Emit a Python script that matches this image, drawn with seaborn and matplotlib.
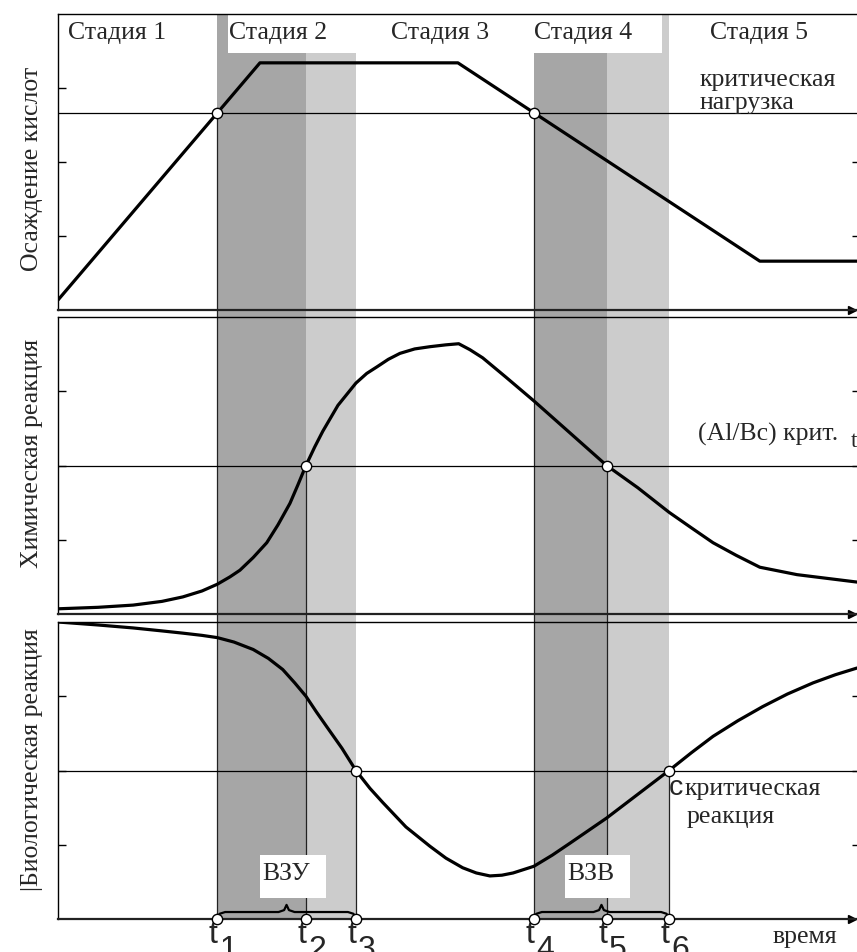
import numpy as np
import pandas as pd
import matplotlib
matplotlib.use("Agg")
import matplotlib.pyplot as plt
import seaborn as sns
from matplotlib.patches import Rectangle

# ---------------- data ----------------
dep_time = [0, 25.25, 50.0, 87.75, 100.0]
deposition = [0.135, 3.34, 3.34, 0.66, 0.66]
critical_load = 2.66

chem_time = [0, 5.0, 9.4, 13.0, 15.6, 18.0, 19.9, 21.5, 22.75, 24.4, 26.1, 27.5,
             29.0, 30.0, 31.0, 32.1, 33.1, 35.0, 37.25, 38.6, 39.9, 41.3, 42.75,
             44.6, 46.5, 48.5, 50.1, 51.5, 53.1, 56.0, 59.5, 64.0, 68.6, 72.5,
             76.4, 79.2, 81.9, 84.8, 87.75, 92.4, 99.9]
chem = [0.07, 0.09, 0.12, 0.17, 0.23, 0.31, 0.40, 0.50, 0.59, 0.76, 0.96, 1.20,
        1.49, 1.74, 2.0, 2.25, 2.46, 2.81, 3.11, 3.24, 3.33, 3.43, 3.51,
        3.57, 3.60, 3.625, 3.64, 3.56, 3.45, 3.19, 2.87, 2.44, 2.0, 1.70,
        1.37, 1.16, 0.96, 0.79, 0.63, 0.53, 0.43]
chem_crit = 2.0

bio_time = [0, 5.0, 9.4, 13.0, 15.6, 18.0, 19.9, 22.0, 24.4, 26.3, 28.1, 29.6,
            31.0, 32.3, 33.6, 35.5, 37.25, 39.0, 40.6, 43.5, 46.5, 48.5, 50.6,
            52.3, 54.0, 55.5, 56.9, 59.5, 61.8, 64.0, 66.3, 68.6, 72.5, 76.4,
            79.2, 81.9, 85.0, 88.1, 91.2, 94.4, 97.2, 99.9]
bio = [4.0, 3.96, 3.92, 3.88, 3.85, 3.82, 3.79, 3.73, 3.63, 3.51, 3.36, 3.18,
       3.0, 2.79, 2.59, 2.30, 2.0, 1.76, 1.57, 1.24, 0.98, 0.82, 0.69,
       0.62, 0.58, 0.59, 0.62, 0.71, 0.86, 1.02, 1.19, 1.36, 1.68, 2.0,
       2.24, 2.46, 2.67, 2.86, 3.03, 3.18, 3.29, 3.38]
bio_crit = 2.0

t_points = [19.9, 31.0, 37.25, 59.5, 68.6, 76.4]
t_subs = ["1", "2", "3", "4", "5", "6"]
stage_labels = ["Стадия 1", "Стадия 2", "Стадия 3", "Стадия 4", "Стадия 5"]
ylabels = ["Осаждение кислот", "Химическая реакция", "|Биологическая реакция"]

# ---------------- style ----------------
sns.set_theme(style="white")
plt.rcParams["font.family"] = ["Liberation Serif", "DejaVu Serif"]
FS = 18.5
SANS = ["Liberation Sans", "DejaVu Sans"]
DARK = "#a6a6a6"
LIGHT = "#cccccc"

W, H = 857, 952
fig = plt.figure(figsize=(W / 100, H / 100), dpi=100)
L = 58 / W
AW = 799 / W


def pos(top, bot):
    return [L, 1 - bot / H, AW, (bot - top) / H]


XMAX = 99.9
bg = fig.add_axes(pos(14, 919), zorder=0)
ax1 = fig.add_axes(pos(14, 310), zorder=2)
ax2 = fig.add_axes(pos(317, 614), zorder=2)
ax3 = fig.add_axes(pos(622, 919), zorder=2)
panels = [ax1, ax2, ax3]

bg.set_xlim(0, XMAX)
bg.set_ylim(0, 1)
bg.axis("off")

# shaded bands
t1, t2, t3, t4, t5, t6 = t_points
for a, b, c in [(t1, t2, DARK), (t2, t3, LIGHT), (t4, t5, DARK), (t5, t6, LIGHT)]:
    bg.axvspan(a, b, color=c, lw=0, zorder=0)

for ax in panels:
    ax.set_xlim(0, XMAX)
    ax.set_ylim(0, 4)
    ax.set_facecolor("none")
    ax.set_xticks([])
    ax.set_yticks([1, 2, 3])
    ax.set_yticklabels([])
    ax.tick_params(axis="y", direction="in", length=6, width=1, color="black",
                   left=True, right=True)
    for tk in ax.yaxis.get_major_ticks():
        tk.tick2line.set_markersize(3.5)
    ax.spines["right"].set_visible(False)
    for s in ["left", "top"]:
        ax.spines[s].set_color("black")
        ax.spines[s].set_linewidth(1.0)
    ax.spines["bottom"].set_color("#222222")
    ax.spines["bottom"].set_linewidth(1.6)
    ax.plot(0.994, 0, marker=">", color="black", ms=6,
            transform=ax.get_yaxis_transform(), clip_on=False)

ax1.yaxis.get_major_ticks()[2].tick2line.set_visible(False)

# critical horizontal lines
for ax, crit in [(ax1, critical_load), (ax2, chem_crit), (ax3, bio_crit)]:
    ax.axhline(crit, color="black", lw=0.9, zorder=1)

# vertical connector lines from critical points down to time axis
inv = bg.transAxes.inverted()
for t, ax, crit in [(t1, ax1, critical_load), (t2, ax2, chem_crit), (t3, ax3, bio_crit),
                    (t4, ax1, critical_load), (t5, ax2, chem_crit), (t6, ax3, bio_crit)]:
    ytop = inv.transform(ax.transData.transform((t, crit)))[1]
    bg.axvline(t, 0, ytop, color="#222222", lw=0.9, zorder=1)

# curves
line_kw = dict(color="black", lw=2.3, zorder=3)
sns.lineplot(x=dep_time, y=deposition, ax=ax1, **line_kw)
sns.lineplot(x=chem_time, y=chem, ax=ax2, **line_kw)
sns.lineplot(x=bio_time, y=bio, ax=ax3, **line_kw)
for ax in panels:
    for ln in ax.get_lines():
        ln.set_solid_joinstyle("round")

# crossing circles
circ = dict(s=55, color="white", edgecolor="black", linewidth=1.0, zorder=5, clip_on=False)
ax1.scatter([t1, t4], [critical_load] * 2, **circ)
ax2.scatter([t2, t5], [chem_crit] * 2, **circ)
ax3.scatter([t3, t6], [bio_crit] * 2, **circ)
ax3.scatter(t_points, [0] * len(t_points), **circ)

# stage label boxes and labels
ax1.add_patch(Rectangle((21.25, 3.47), t3 - 21.25, 0.6, facecolor="white",
                        edgecolor="none", zorder=2, clip_on=False))
ax1.add_patch(Rectangle((t4 - 0.1, 3.47), 75.5 - t4 + 0.1, 0.6, facecolor="white",
                        edgecolor="none", zorder=2, clip_on=False))
stage_x = [7.4, 27.5, 47.75, 65.6, 87.6]
for sx, lab in zip(stage_x, stage_labels):
    ax1.text(sx, 3.66, lab, ha="center", va="baseline", fontsize=FS, zorder=4)

ax1.text(80.25, 3.03, "критическая", ha="left", va="baseline", fontsize=FS, zorder=4)
ax1.text(80.25, 2.72, "нагрузка", ha="left", va="baseline", fontsize=FS, zorder=4)

ax2.text(80.0, 2.33, "(Al/Bc) крит.", ha="left", va="baseline", fontsize=FS, zorder=4)
ax2.text(99.1, 2.25, "t", ha="left", va="baseline", fontsize=FS - 2, zorder=4)

ax3.text(76.4, 1.67, "с", ha="left", va="baseline", fontsize=FS + 2,
         family=SANS, zorder=4)
ax3.text(78.3, 1.67, "критическая", ha="left", va="baseline", fontsize=FS, zorder=4)
ax3.text(78.6, 1.29, "реакция", ha="left", va="baseline", fontsize=FS, zorder=4)

# ВЗУ / ВЗВ boxes
for x0, x1, lab in [(25.25, 33.5, "ВЗУ"), (63.4, 71.5, "ВЗВ")]:
    ax3.add_patch(Rectangle((x0, 0.28), x1 - x0, 0.58, facecolor="white",
                            edgecolor="none", zorder=4))
    ax3.text(x0 + 0.25, 0.525, lab, ha="left", va="baseline", fontsize=FS, zorder=6)


# braces under the windows
def brace(ax, xa, xb):
    xm = (xa + xb) / 2
    bx = [xa, xa + 0.3, xa + 1.0, xm - 1.0, xm - 0.3, xm, xm + 0.3, xm + 1.0, xb - 1.0, xb - 0.3, xb]
    by = [0.0, 0.07, 0.094, 0.094, 0.12, 0.19, 0.12, 0.094, 0.094, 0.07, 0.0]
    ax.plot(bx, by, color="black", lw=1.6, zorder=4, solid_capstyle="round")


brace(ax3, t1, t3)
brace(ax3, t4, t6)

# time labels t1..t6
for t, sub in zip(t_points, t_subs):
    ax3.text(t - 0.5, -0.02, "t", ha="center", va="top", fontsize=23,
             family=SANS, clip_on=False)
    ax3.text(t + 0.25, -0.22, sub, ha="left", va="top", fontsize=23,
             family=SANS, clip_on=False)

ax3.text(89.4, -0.32, "время", ha="left", va="baseline", fontsize=FS, clip_on=False)

# y labels
label_y = [0.476, 0.539, 0.535]
for ax, lab, ly in zip(panels, ylabels, label_y):
    ax.set_ylabel(lab, fontsize=FS)
    ax.yaxis.set_label_coords(-0.019, ly)

fig.savefig("out.png", dpi=100)
